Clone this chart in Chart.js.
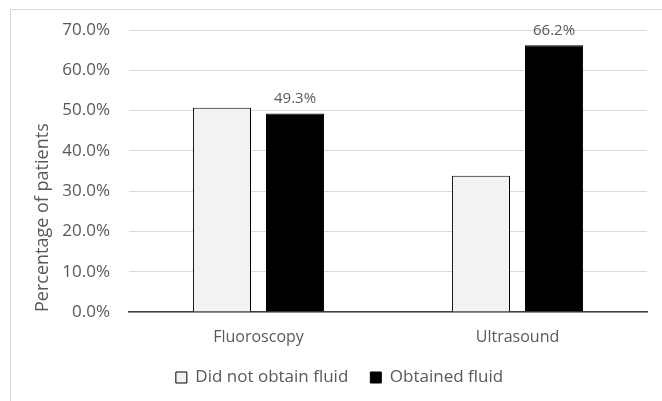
<!DOCTYPE html>
<html>
<head>
<meta charset="utf-8">
<script src="https://cdn.jsdelivr.net/npm/chart.js@4"></script>
<style>
  body { margin: 0; background: #fff; overflow: hidden; }
  #frame {
    position: absolute; left: 10px; top: 9px;
    width: 700px; height: 430px;
    border: 1px solid #d9d9d9;
  }
  #chart { position: absolute; left: 11px; top: 10px; }
</style>
</head>
<body>
<div id="frame"></div>
<canvas id="chart" width="660" height="386"></canvas>
<script>
const categories = ['Fluoroscopy', 'Ultrasound'];
const notObtained = [50.7, 33.8];   // Did not obtain fluid
const obtained = [49.3, 66.2];      // Obtained fluid
const yTicks = [0, 10, 20, 30, 40, 50, 60, 70];

const textColor = '#595959';
const fontFamily = '"Open Sans", sans-serif';

// value labels above the "Obtained fluid" bars only
const valueLabels = {
    id: 'valueLabels',
    afterDatasetsDraw(chart) {
        const ctx = chart.ctx;
        const meta = chart.getDatasetMeta(1);
        ctx.save();
        ctx.font = '15px ' + fontFamily;
        ctx.fillStyle = textColor;
        ctx.textAlign = 'center';
        ctx.textBaseline = 'bottom';
        meta.data.forEach((bar, i) => {
            ctx.fillText(obtained[i].toFixed(1) + '%', bar.x, bar.y - 7);
        });
        ctx.restore();
    }
};

new Chart(document.getElementById('chart'), {
    type: 'bar',
    data: {
        labels: categories,
        datasets: [{
            label: 'Did not obtain fluid',
            data: notObtained,
            backgroundColor: '#f2f2f2',
            borderColor: '#000',
            borderWidth: 1,
            barPercentage: 0.795,
            categoryPercentage: 0.564
        }, {
            label: 'Obtained fluid',
            data: obtained,
            backgroundColor: '#000',
            borderColor: '#000',
            borderWidth: 1,
            barPercentage: 0.795,
            categoryPercentage: 0.564
        }]
    },
    options: {
        responsive: false,
        animation: false,
        layout: {
            padding: { top: 20, right: 24, left: 21, bottom: 0 }
        },
        scales: {
            x: {
                afterFit: axis => { axis.height = 35; },
                grid: { display: false, drawTicks: false },
                border: { display: true, color: '#404040', width: 1.5 },
                ticks: {
                    color: textColor,
                    font: { family: fontFamily, size: 16 },
                    padding: 16
                }
            },
            y: {
                min: 0,
                max: 70,
                afterBuildTicks: axis => {
                    axis.ticks = yTicks.map(v => ({ value: v }));
                },
                afterFit: axis => { axis.width = 97; },
                grid: {
                    color: '#d9d9d9',
                    lineWidth: 1,
                    drawTicks: true,
                    tickLength: 15,
                    tickColor: 'rgba(0,0,0,0)'
                },
                border: { display: false },
                ticks: {
                    color: textColor,
                    font: { family: fontFamily, size: 17 },
                    padding: 4,
                    callback: v => v.toFixed(1) + '%'
                },
                title: {
                    display: true,
                    text: 'Percentage of patients',
                    color: textColor,
                    font: { family: fontFamily, size: 18 },
                    align: 'start',
                    padding: 0
                }
            }
        },
        plugins: {
            legend: {
                position: 'bottom',
                labels: {
                    boxWidth: 11,
                    boxHeight: 11,
                    padding: 22,
                    color: textColor,
                    font: { family: fontFamily, size: 17 }
                }
            },
            tooltip: { enabled: false }
        }
    },
    plugins: [valueLabels]
});
</script>
</body>
</html>
